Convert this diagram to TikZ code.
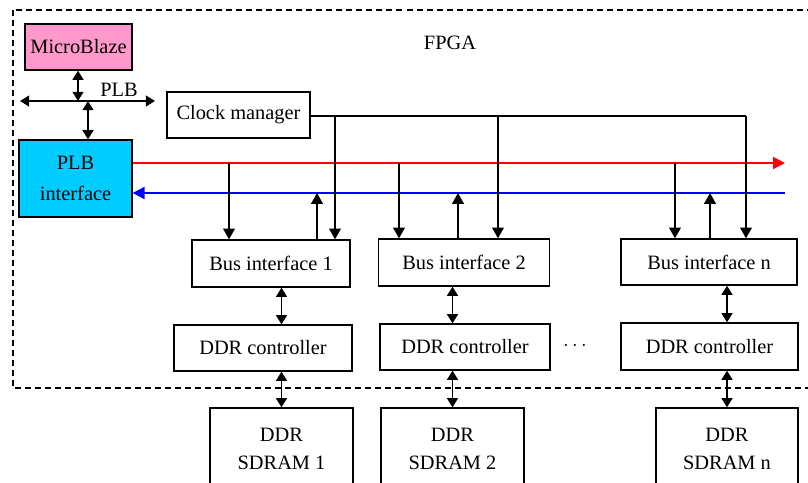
\documentclass[tikz,border=0pt]{standalone}
\usepackage{fontspec}
\setmainfont{Liberation Serif}
\usepackage{tikz}
\usetikzlibrary{arrows.meta,positioning}
\definecolor{mbpink}{HTML}{FF99CC}
\definecolor{plbcyan}{HTML}{00CCFF}

\begin{document}
\begin{tikzpicture}[x=0.025cm, y=-0.025cm,
        blk/.style={draw, rectangle, line width=0.9pt, inner sep=1pt, align=center,
                    minimum height=1.15cm, font=\rmfamily\fontsize{14.5}{20}\selectfont},
        lbl/.style={font=\rmfamily\fontsize{14.5}{20}\selectfont},
        arr/.style={-{Triangle[length=2.7mm, width=2.9mm]}, line width=1.4pt},
        dbl/.style={{Triangle[length=2.3mm, width=2.7mm]}-{Triangle[length=2.3mm, width=2.7mm]}, line width=1.4pt},
        bus/.style={-{Triangle[length=3mm, width=3mm]}, line width=1.4pt}
    ]
        \useasboundingbox (0,0) rectangle (808,482);
        \clip (0,0) rectangle (808,482);
        % fpga
        \draw[dashed, dash pattern=on 1.5mm off 1mm, line width=0.9pt] (13,10) rectangle (840,388);
        \node (fpga) [lbl] at (450,43) {FPGA};
        % nodes
        \node (mb) [blk, fill=mbpink, minimum width=2.675cm] at (78.5,47) {MicroBlaze};
        \node (plb) [blk, fill=plbcyan, minimum width=2.825cm, minimum height=1.925cm] at (75.5,178.5) {PLB\\[2pt]interface};
        \node (cm) [blk, minimum width=3.575cm] at (238.5,115) {Clock manager};
        \node (bi1) [blk, minimum width=3.95cm, minimum height=1.175cm] at (271,263.5) {Bus interface 1};
        \node (bi2) [blk, minimum width=4.275cm, minimum height=1.175cm] at (464,262.5) {Bus interface 2};
        \node (bin) [blk, minimum width=4.4cm] at (709,262) {Bus interface n};
        \node (dc1) [blk, minimum width=4.45cm] at (263,348) {DDR controller};
        \node (dc2) [blk, minimum width=4.25cm] at (465,347) {DDR controller};
        \node (dcn) [blk, minimum width=4.425cm, minimum height=1.175cm] at (709.5,346.5) {DDR controller};
        \node (dots) [lbl] at (575,346) {$\cdots$};
        \node (sd1) [blk, minimum width=3.575cm, minimum height=2.05cm] at (281.5,449) {DDR\\SDRAM 1};
        \node (sd2) [blk, minimum width=3.575cm, minimum height=2.05cm] at (452.5,449) {DDR\\SDRAM 2};
        \node (sdn) [blk, minimum width=3.55cm, minimum height=2.05cm] at (727,449) {DDR\\SDRAM n};
        % plb bus
        \coordinate (busl) at (20,101);
        \coordinate (busr) at (155,101);
        \coordinate (bt1) at (78,101);
        \coordinate (bt2) at (88,101);
        \draw[dbl] (busl) -- (busr);
        \node (plbl) [lbl] at (119,90) {PLB};
        \draw[dbl] (mb.south -| bt1) -- (bt1);
        \draw[dbl] (bt2) -- (bt2 |- plb.north);
        % red and blue lines
        \coordinate (redr) at (785,163);
        \coordinate (bluer) at (785,193);
        \draw[bus, red] (plb.east |- redr) -- (redr);
        \draw[bus, blue] (bluer) -- (plb.east |- bluer);
        % taps
        \coordinate (r1) at (229,163);
        \coordinate (r2) at (399,163);
        \coordinate (r3) at (675,163);
        \coordinate (b1) at (317,193);
        \coordinate (b2) at (458,193);
        \coordinate (b3) at (710,193);
        \draw[arr] (r1) -- (r1 |- bi1.north);
        \draw[arr] (r2) -- (r2 |- bi2.north);
        \draw[arr] (r3) -- (r3 |- bin.north);
        \draw[arr] (b1 |- bi1.north) -- (b1);
        \draw[arr] (b2 |- bi2.north) -- (b2);
        \draw[arr] (b3 |- bin.north) -- (b3);
        % clock
        \coordinate (ck1) at (335,116);
        \coordinate (ck2) at (498,116);
        \coordinate (ck3) at (746,116);
        \draw[line width=1.1pt] (cm.east |- ck1) -- (ck3);
        \draw[arr] (ck1) -- (ck1 |- bi1.north);
        \draw[arr] (ck2) -- (ck2 |- bi2.north);
        \draw[arr] (ck3) -- (ck3 |- bin.north);
        % memory paths
        \draw[dbl] (bi1.south -| sd1) -- (dc1.north -| sd1);
        \draw[dbl] (bi2.south -| sd2) -- (dc2.north -| sd2);
        \draw[dbl] (bin.south -| sdn) -- (dcn.north -| sdn);
        \draw[dbl] (dc1.south -| sd1) -- (sd1.north);
        \draw[dbl] (dc2.south -| sd2) -- (sd2.north);
        \draw[dbl] (dcn.south -| sdn) -- (sdn.north);
    \end{tikzpicture}
\end{document}
